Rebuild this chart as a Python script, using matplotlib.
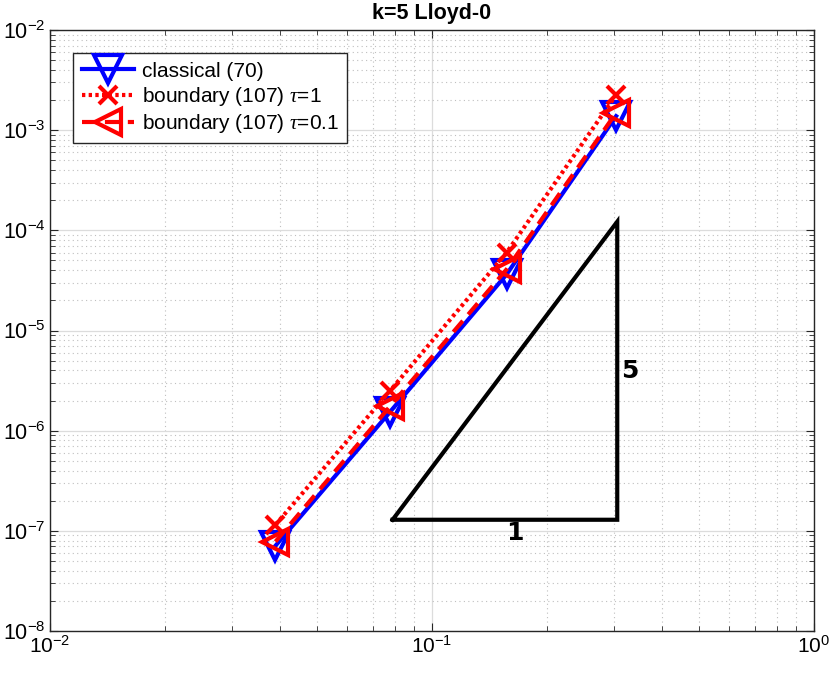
import matplotlib
matplotlib.use("Agg")
import matplotlib.pyplot as plt
from matplotlib.ticker import LogLocator, NullFormatter

plt.rcParams['font.family'] = ['Liberation Sans', 'DejaVu Sans']
plt.rcParams['mathtext.fontset'] = 'custom'
plt.rcParams['mathtext.rm'] = 'Liberation Sans'
plt.rcParams['mathtext.it'] = 'Liberation Serif:italic'

# data
h = [0.039, 0.0778, 0.157, 0.304]
err_classical = [7.1e-8, 1.54e-6, 3.63e-5, 1.38e-3]
err_tau1 = [1.15e-7, 2.5e-6, 5.98e-5, 2.25e-3]
err_tau01 = [7.8e-8, 1.75e-6, 4.07e-5, 1.49e-3]
labels = ['classical (70)', r'boundary (107) $\tau$=1', r'boundary (107) $\tau$=0.1']

tri_x = [0.079, 0.306, 0.306, 0.079]
tri_y = [1.29e-7, 1.29e-7, 1.22e-4, 1.29e-7]

W, H = 830, 674
fig = plt.figure(figsize=(W/100, H/100), dpi=100)
L, R, T, B = 49.7, 813.7, 30, 631
ax = fig.add_axes([L/W, 1-B/H, (R-L)/W, (B-T)/H])
ax.set_xscale('log')
ax.set_yscale('log')
ax.set_xlim(1e-2, 1e0)
ax.set_ylim(1e-8, 1e-2)

ax.plot(h, err_classical, color='blue', lw=3, ls='-', marker='v', ms=20,
        mfc='none', mew=3, label=labels[0], zorder=3)
ax.plot(h, err_tau1, color='red', lw=3, ls=(0, (0.8, 0.8)), marker='x', ms=13,
        mew=3, label=labels[1], zorder=4)
ax.plot(h, err_tau01, color='red', lw=3, ls=(0, (3.5, 2)), marker='<', ms=19,
        mfc='none', mew=3, label=labels[2], zorder=5)

ax.plot(tri_x, tri_y, color='black', lw=3, solid_joinstyle='miter', zorder=2)
ax.text(0.165, 9.5e-8, '1', ha='center', va='center', fontsize=18,
        fontweight='bold', family='DejaVu Sans')
ax.text(0.33, 3.9e-6, '5', ha='center', va='center', fontsize=18,
        fontweight='bold', family='DejaVu Sans')

ax.xaxis.set_major_locator(LogLocator(base=10, numticks=10))
ax.yaxis.set_major_locator(LogLocator(base=10, numticks=10))
ax.xaxis.set_minor_locator(LogLocator(base=10, subs=range(2, 10), numticks=20))
ax.yaxis.set_minor_locator(LogLocator(base=10, subs=range(2, 10), numticks=20))
ax.xaxis.set_minor_formatter(NullFormatter())
ax.yaxis.set_minor_formatter(NullFormatter())

ax.grid(True, which='major', color='#dcdcdc', lw=0.9, ls='-')
ax.grid(True, which='minor', color='#bfbfbf', lw=0.8, ls=(0, (1, 3)))
ax.set_axisbelow(True)
ax.tick_params(which='both', direction='in', top=True, right=True,
               color='#262626', labelsize=15.5)
ax.tick_params(which='major', length=6, width=0.8)
ax.tick_params(which='minor', length=3.5, width=0.6)
ax.tick_params(axis='x', pad=3, labelsize=15)
ax.tick_params(axis='y', pad=3)
for s in ax.spines.values():
    s.set_color('#262626')
    s.set_linewidth(1.0)

ax.set_title('k=5 Lloyd-0', fontsize=15.5, fontweight='bold', pad=8)

leg = ax.legend(loc='upper left', bbox_to_anchor=((73.3-L)/(R-L), (B-53.3)/(B-T)),
                borderaxespad=0, fontsize=15, handlelength=2.5, fancybox=False,
                framealpha=1, edgecolor='#262626', borderpad=0.4,
                labelspacing=0.2, handletextpad=0.4)
leg.get_frame().set_linewidth(1.0)

fig.savefig('out.png', dpi=100)
